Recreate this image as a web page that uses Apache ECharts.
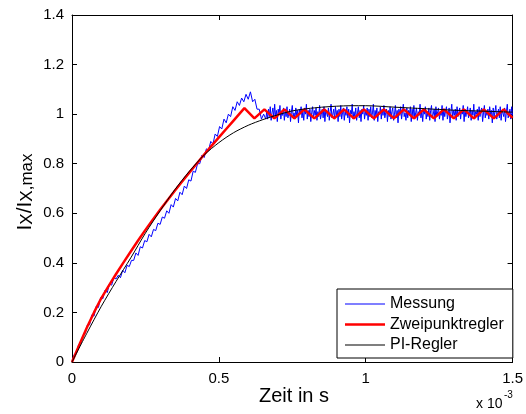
<!DOCTYPE html>
<html>
<head>
<meta charset="utf-8">
<script src="https://cdn.jsdelivr.net/npm/echarts@6/dist/echarts.min.js"></script>
<style>
html,body{margin:0;padding:0;background:#fff;}
#c{width:526px;height:414px;}
</style>
</head>
<body>
<div id="c"></div>
<script>
// x in units of 1e-3 s
const xTicks = [0, 0.5, 1, 1.5];
const yTicks = [0, 0.2, 0.4, 0.6, 0.8, 1, 1.2, 1.4];
const seriesNames = ['Messung', 'Zweipunktregler', 'PI-Regler'];

// Messung, rising part: sampled every riseDt (ms) from 0
const riseDt = 0.0075;
const blueRise = [
0.00,0.03,0.035,0.07,0.075,0.105,0.115,0.15,0.15,0.19,
0.185,0.225,0.22,0.26,0.255,0.29,0.28,0.315,0.31,0.34,
0.335,0.35,0.34,0.37,0.36,0.39,0.385,0.41,0.41,0.44,
0.43,0.465,0.46,0.49,0.485,0.515,0.505,0.535,0.53,0.56,
0.555,0.585,0.58,0.61,0.60,0.635,0.625,0.66,0.65,0.685,
0.675,0.71,0.70,0.735,0.73,0.77,0.765,0.80,0.80,0.835,
0.825,0.86,0.855,0.89,0.88,0.92,0.91,0.95,0.94,0.98,
0.965,1.00,0.99,1.03,1.015,1.05,1.035,1.065,1.05,1.08,
1.06,1.09,1.05,1.06,1.02,1.02,0.98,1.00,0.98
];
// Messung, settled part: sampled every settleDt (ms) from settleT0
const settleT0 = 0.663;
const settleDt = 0.003;
const blueSettle = [
1.01,0.98,1.02,0.99,1.03,0.975,1.005,1.025,0.985,1.04,0.99,1.015,0.97,1.02,1.0,1.035,0.98,1.01,0.995,1.025,
0.975,1.015,0.99,1.03,0.985,1.0,1.02,0.97,1.01,1.035,0.99,1.005,0.98,1.025,0.995,1.015,0.965,1.02,1.0,1.03,
0.985,1.01,0.975,1.025,1.0,1.04,0.98,1.015,0.99,1.02,0.97,1.005,1.03,0.985,1.015,0.995,1.025,0.975,1.01,0.99,
1.035,0.98,1.0,1.02,0.985,1.03,0.97,1.015,1.005,0.99,1.025,0.975,1.01,1.04,0.985,1.0,1.02,0.98,1.03,0.995,
1.015,0.97,1.02,0.99,1.035,0.98,1.005,1.025,0.975,1.01,0.995,1.03,0.985,1.02,0.965,1.015,1.0,1.04,0.98,1.01,
0.99,1.025,0.975,1.005,1.03,0.985,1.015,0.97,1.02,1.0,1.035,0.98,1.01,0.995,1.025,0.975,1.02,0.99,1.03,0.985,
1.005,1.04,0.975,1.015,0.99,1.025,0.97,1.01,1.0,1.03,0.98,1.02,0.995,1.035,0.985,1.005,1.02,0.97,1.015,0.99,
1.03,0.98,1.01,1.025,0.975,1.0,1.035,0.985,1.015,0.965,1.02,0.995,1.03,0.98,1.01,1.04,0.99,1.005,0.975,1.025,
0.985,1.015,1.0,1.03,0.97,1.02,0.99,1.035,0.98,1.005,1.025,0.975,1.01,0.995,1.04,0.985,1.015,0.97,1.02,1.0,
1.03,0.98,1.01,0.99,1.025,0.975,1.015,1.035,0.985,1.0,1.02,0.97,1.03,0.99,1.01,1.025,0.98,1.005,0.995,1.035,
0.975,1.02,0.99,1.015,1.03,0.98,1.0,1.025,0.965,1.01,1.04,0.985,1.015,0.995,1.02,0.975,1.03,0.99,1.005,1.025,
0.98,1.015,1.0,1.035,0.97,1.02,0.99,1.01,1.03,0.985,1.005,1.025,0.975,1.015,0.995,1.04,0.98,1.01,1.0,1.02,
0.975,1.03,0.99,1.015,1.025,0.97,1.005,1.035,0.985,1.01,0.995,1.02,0.98,1.03,1.0,1.015,0.965,1.025,0.99,1.01,
1.035,0.98,1.0,1.02,0.985,1.03,0.975,1.015,1.005,0.99,1.025,0.97,1.01,1.04,0.985,1.0,1.02,0.98,1.03,0.995
];

// Zweipunktregler
const redT = [0,0.025,0.05,0.075,0.1,0.125,0.15,0.175,0.2,0.225,0.25,0.275,0.3,0.325,0.35,0.375,0.4,
0.425,0.45,0.475,0.5,0.525,0.55,0.575,0.587,
0.621,0.655,0.689,0.723,0.757,0.791,0.825,0.859,0.893,0.926,0.960,0.994,
1.028,1.062,1.096,1.130,1.164,1.198,1.232,1.266,1.300,1.334,1.368,1.402,1.436,1.470,1.5];
const redY = [0,0.07,0.137,0.2,0.258,0.307,0.355,0.401,0.446,0.49,0.533,0.574,0.614,0.653,0.691,0.728,0.765,
0.801,0.837,0.872,0.906,0.94,0.974,1.008,1.024,
0.983,1.019,0.983,1.019,0.983,1.019,0.983,1.019,0.983,1.019,0.983,1.019,
0.983,1.019,0.983,1.019,0.983,1.019,0.983,1.019,0.983,1.019,0.983,1.019,0.983,1.019,0.985];

// PI-Regler
const blackT = [0,0.05,0.1,0.15,0.2,0.25,0.3,0.35,0.4,0.45,0.5,0.55,0.6,0.65,0.7,0.75,0.8,0.85,0.9,0.95,1.0,1.1,1.2,1.3,1.4,1.5];
const blackY = [0,0.115,0.225,0.325,0.42,0.52,0.61,0.695,0.77,0.835,0.885,0.925,0.955,0.978,0.997,1.013,1.022,1.028,1.032,1.034,1.034,1.028,1.022,1.016,1.012,1.008];

const blueData = blueRise.map((v, i) => [i * riseDt, v])
  .concat(blueSettle.map((v, i) => [settleT0 + i * settleDt, v]));
const redData = redT.map((t, i) => [t, redY[i]]);
const blackData = blackT.map((t, i) => [t, blackY[i]]);

const FONT = 'Liberation Sans, Arial, sans-serif';
const chart = echarts.init(document.getElementById('c'), null, {renderer: 'canvas'});

function fmt(v){ return String(parseFloat(v.toFixed(2))); }

// legend icon: horizontal bar of given thickness centred in a 40x16 box
function lineIcon(th){
  const y0 = 8 - th / 2, y1 = 8 + th / 2;
  return 'path://M0,0L0.001,0L0.001,16L0,16Z M0,' + y0 + 'L40,' + y0 + 'L40,' + y1 + 'L0,' + y1 + 'Z';
}

const axisCommon = {
  axisLine: {show: true, onZero: false, lineStyle: {color: '#000', width: 1}},
  axisTick: {show: true, inside: true, length: 5, lineStyle: {color: '#000'}},
  splitLine: {show: false}
};

chart.setOption({
  animation: false,
  backgroundColor: '#fff',
  grid: {left: 72, right: 12, top: 15, bottom: 52, containLabel: false},
  xAxis: [
    Object.assign({type: 'value', min: xTicks[0], max: xTicks[xTicks.length-1], interval: 0.5, position: 'bottom',
      axisLabel: {color: '#000', fontSize: 15, fontFamily: FONT, margin: 9, formatter: fmt}}, axisCommon),
    Object.assign({type: 'value', min: xTicks[0], max: xTicks[xTicks.length-1], interval: 0.5, position: 'top',
      axisLabel: {show: false}}, axisCommon)
  ],
  yAxis: [
    Object.assign({type: 'value', min: yTicks[0], max: yTicks[yTicks.length-1], interval: 0.2, position: 'left',
      axisLabel: {color: '#000', fontSize: 15, fontFamily: FONT, margin: 8, formatter: fmt}}, axisCommon),
    Object.assign({type: 'value', min: yTicks[0], max: yTicks[yTicks.length-1], interval: 0.2, position: 'right',
      axisLabel: {show: false}}, axisCommon)
  ],
  legend: {
    orient: 'vertical', left: 337, top: 289,
    backgroundColor: '#fff', borderColor: '#000', borderWidth: 1, borderRadius: 0,
    padding: [7, 9, 5, 8], itemGap: 4.5, itemWidth: 40, itemHeight: 16,
    itemStyle: {borderWidth: 0},
    textStyle: {color: '#000', fontSize: 16, fontFamily: FONT},
    data: [
      {name: seriesNames[0], icon: lineIcon(1)},
      {name: seriesNames[1], icon: lineIcon(2.5)},
      {name: seriesNames[2], icon: lineIcon(1)}
    ]
  },
  series: [
    {name: seriesNames[0], type: 'line', data: blueData, showSymbol: false, symbol: 'none',
      lineStyle: {color: '#0000ff', width: 1}, itemStyle: {color: '#0000ff'}, z: 2},
    {name: seriesNames[1], type: 'line', data: redData, showSymbol: false, symbol: 'none',
      lineStyle: {color: '#ff0000', width: 2.5}, itemStyle: {color: '#ff0000'}, z: 3},
    {name: seriesNames[2], type: 'line', data: blackData, showSymbol: false, symbol: 'none', smooth: 0.3,
      lineStyle: {color: '#000000', width: 1}, itemStyle: {color: '#000000'}, z: 4}
  ],
  graphic: [
    {type: 'text', x: 294, y: 396, style: {
      text: 'Zeit in s', fontSize: 20, fontFamily: FONT, fill: '#000', textAlign: 'center', textVerticalAlign: 'middle'}},
    {type: 'text', x: 20, y: 192, rotation: Math.PI / 2, style: {
      text: '{n|I}{s|X}{n|/I}{s|X,max}', fontFamily: FONT, fill: '#000', textAlign: 'center', textVerticalAlign: 'middle',
      rich: {
        n: {fontSize: 21, fontFamily: FONT, lineHeight: 32, verticalAlign: 'bottom'},
        s: {fontSize: 17, fontFamily: FONT, lineHeight: 14, verticalAlign: 'bottom'}
      }}},
    {type: 'text', x: 476, y: 404, style: {
      text: 'x 10', fontSize: 14, fontFamily: FONT, fill: '#000', textAlign: 'left', textVerticalAlign: 'middle'}},
    {type: 'text', x: 504, y: 395, style: {
      text: '-3', fontSize: 10, fontFamily: FONT, fill: '#000', textAlign: 'left', textVerticalAlign: 'middle'}}
  ]
});
</script>
</body>
</html>
